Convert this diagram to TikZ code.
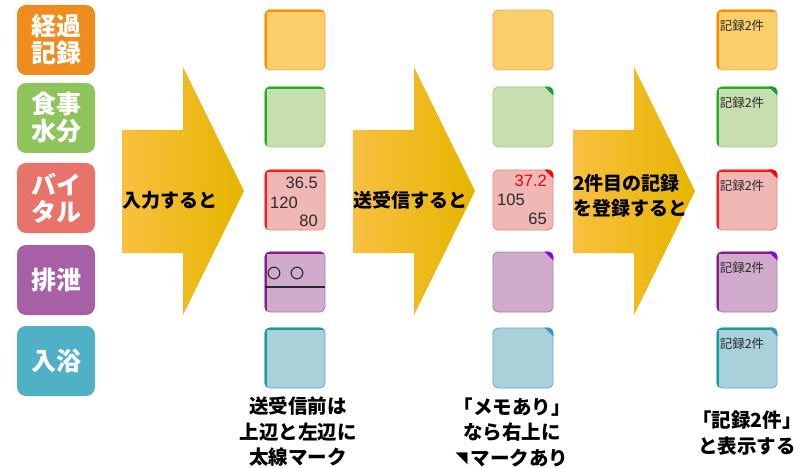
\documentclass[tikz,border=0pt]{standalone}
\usepackage{fontspec}
\setmainfont{Noto Sans CJK JP}
\newfontfamily\numfont{Liberation Sans}
\usetikzlibrary{positioning}

% row colours: icon, strong mark, tile fill, tile line
\definecolor{orI}{HTML}{EE8C1E}\definecolor{orS}{HTML}{FF8A00}\definecolor{orF}{HTML}{F8CF6A}\definecolor{orL}{HTML}{F2A955}
\definecolor{grI}{HTML}{8FC45C}\definecolor{grS}{HTML}{1DB022}\definecolor{grF}{HTML}{C9DEB0}\definecolor{grL}{HTML}{9DCC86}
\definecolor{rdI}{HTML}{E8736B}\definecolor{rdS}{HTML}{FF1A1A}\definecolor{rdF}{HTML}{F0B8B5}\definecolor{rdL}{HTML}{E6847C}
\definecolor{puI}{HTML}{A760A5}\definecolor{puS}{HTML}{8A1A90}\definecolor{puF}{HTML}{D1ABCB}\definecolor{puL}{HTML}{A87AB0}
\definecolor{teI}{HTML}{4FB0C6}\definecolor{teS}{HTML}{109C9C}\definecolor{teF}{HTML}{A8D1DA}\definecolor{teL}{HTML}{6F9FD6}
\definecolor{grM}{HTML}{10A030}\definecolor{rdM}{HTML}{FF0000}\definecolor{puM}{HTML}{9000E0}\definecolor{teM}{HTML}{3B8FD0}
\definecolor{arL}{HTML}{F9C040}\definecolor{arM}{HTML}{FFC800}\definecolor{arR}{HTML}{E6B500}
\definecolor{ink}{HTML}{2A2A2A}

\tikzset{
	icon/.style={rounded corners=9pt,minimum width=78pt,minimum height=70pt,inner sep=0pt,
		text=white,align=center,font=\fontsize{25}{27}\selectfont\bfseries},
	tile/.style={rounded corners=5pt,minimum size=60pt,inner sep=0pt,line width=0.8pt},
	edge/.style={line width=5pt},
	vital/.style={inner sep=0pt,font=\numfont\fontsize{16.5}{16.5}\selectfont,text=ink},
	arrtext/.style={inner sep=0pt,anchor=west,align=left,font=\fontsize{19}{25}\selectfont\bfseries},
	caption/.style={inner sep=0pt,align=center,font=\fontsize{19.5}{25.5}\selectfont\bfseries}
}

\begin{document}
\begin{tikzpicture}[x=1pt,y=-1pt]
\useasboundingbox (0,0) rectangle (809,468);

% category icons
\foreach \i/\y/\k/\t in {1/40/or/経過\\記録,2/118/gr/食事\\水分,3/198/rd/バイ\\タル,4/280/pu/排泄,5/361/te/入浴}
	\node[icon,fill=\k I] (i\i) at (56,\y) {\t};

% big arrows
\foreach \x/\n in {122/1,353/2,573/3}
	\shade[left color=arL,middle color=arM,right color=arR]
		(\x,130) -- (\x+61,130) -- (\x+61,67) -- (\x+122,191) -- (\x+61,315)
		-- (\x+61,253) -- (\x,253) -- cycle;
\node[arrtext] (t1) at (122,200) {入力すると};
\node[arrtext] (t2) at (353,200) {送受信すると};
\node[arrtext] (t3) at (573,196) {2件目の記録\\を登録すると};

% tiles
\foreach \i/\y/\k in {1/40/or,2/117/gr,3/200/rd,4/282/pu,5/358/te}{
	\node[tile,fill=\k F,draw=\k L] (a\i) at (295,\y) {};
	\node[tile,fill=\k F,draw=\k L] (b\i) at (523,\y) {};
	\node[tile,fill=\k F,draw=\k L] (c\i) at (747,\y) {};
	\foreach \c in {a,c}{
		\begin{scope}
		\clip[rounded corners=5pt] (\c\i.south west) rectangle (\c\i.north east);
		\draw[edge,\k S] ([yshift=-6pt]\c\i.south west) -- (\c\i.north west) -- ([xshift=6pt]\c\i.north east);
		\end{scope}
	}
	\node[anchor=base west,inner sep=0pt,text=ink,font=\fontsize{12.5}{12.5}\selectfont]
		at ([xshift=3pt,yshift=-21pt]c\i.north west) {記録2件};
}

% memo marks
\foreach \i/\k in {2/gr,3/rd,4/pu,5/te}
	\foreach \c in {b,c}{
		\begin{scope}
		\clip[rounded corners=5pt] (\c\i.south west) rectangle (\c\i.north east);
		\fill[\k M] ([xshift=-9pt]\c\i.north east) -- (\c\i.north east) -- ([yshift=-9pt]\c\i.north east) -- cycle;
		\end{scope}
	}

% vital values
\node[vital,anchor=base east] (v1) at (318,189) {36.5};
\node[vital,anchor=base west] (v2) at (270,208) {120};
\node[vital,anchor=base east] (v3) at (318,226) {80};
\node[vital,anchor=base east,text=rdM] (w1) at (547,186) {37.2};
\node[vital,anchor=base west] (w2) at (497,205) {105};
\node[vital,anchor=base east] (w3) at (547,225) {65};

% excretion record
\draw[ink,line width=1.2pt] (a4.west |- 0,287) -- (a4.east |- 0,287);
\draw[ink,line width=1.1pt] (274,273) circle (5.8) (297,273) circle (5.8);

% captions
\node[caption] (cap1) at (298,432) {送受信前は\\上辺と左辺に\\太線マーク};
\node[caption] (cap2) at (512,432) {「メモあり」\\なら右上に\\\raisebox{2pt}{\fontsize{12}{12}\selectfont ◥}\,マークあり};
\node[caption] (cap3) at (747,433) {「記録2件」\\と表示する};

\end{tikzpicture}
\end{document}
